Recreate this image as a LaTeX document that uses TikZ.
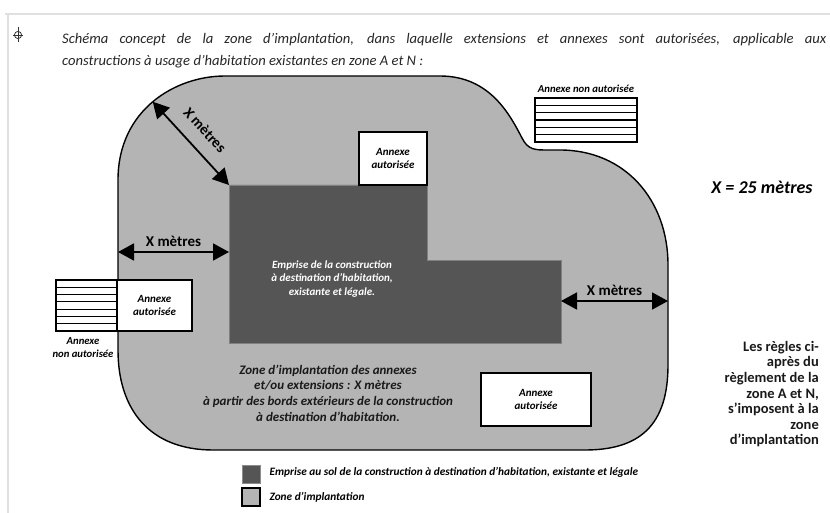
\documentclass[tikz,border=0pt]{standalone}
\usepackage{fontspec}
\setmainfont{Carlito}
\usetikzlibrary{arrows.meta}

\definecolor{zonegris}{HTML}{B4B4B4}
\definecolor{emprise}{HTML}{555555}
\definecolor{cadre}{HTML}{E0E0E0}

\begin{document}
\begin{tikzpicture}[x=1pt, y=-1pt,
  annexe/.style={draw=black, line width=1.4pt, fill=white, inner sep=0pt,
    font=\fontsize{11}{13.5}\selectfont\bfseries\itshape, align=center},
  hachure/.style={draw=black, line width=1.2pt},
  cote/.style={{Triangle[length=16pt,width=17pt]}-{Triangle[length=16pt,width=17pt]}, line width=1.8pt},
  cotelbl/.style={font=\fontsize{15}{18}\selectfont\bfseries},
  legende/.style={font=\fontsize{11.3}{13}\selectfont\bfseries\itshape, anchor=west},
]
  \useasboundingbox (0,0) rectangle (830,513);
  % cadre de la page et repere
  \draw[cadre, line width=1.5pt] (5,14) -- (830,14);
  \draw[cadre, line width=1.5pt] (8,14) -- (8,513);
  \draw[black!80, line width=0.8pt] (18,35) circle (3.6);
  \draw[black!80, line width=0.8pt] (18,27) -- (18,42) (13,35) -- (23,35);
  % titre
  \node[anchor=base west, font=\fontsize{14.6}{22}\selectfont\itshape, text=black!85, inner sep=0pt] (titre1) at (62,44)
    {\makebox[764pt][s]{Schéma concept de la zone d’implantation, dans laquelle extensions et annexes sont autorisées, applicable aux}};
  \node[anchor=base west, font=\fontsize{14.6}{22}\selectfont\itshape, text=black!85, inner sep=0pt] (titre2) at (62,66)
    {constructions à usage d’habitation existantes en zone A et N :};

  % zone d'implantation
  \filldraw[fill=zonegris, draw=black, line width=1.4pt]
    (225,76) -- (440,76) .. controls (490,76) and (510,115) .. (522,138)
    .. controls (528,150) and (535,150) .. (548,150) -- (560,150)
    .. controls (625,150) and (668,200) .. (668,265) -- (668,365)
    .. controls (668,425) and (640,450) .. (585,450) -- (213,450)
    .. controls (150,450) and (118,410) .. (118,350) -- (118,180)
    .. controls (118,110) and (175,76) .. (225,76) coordinate[pos=0.5] (zNO) -- cycle;
  \coordinate (zO) at (118,252);
  \coordinate (zE) at (668,301);

  % emprise de la construction
  \filldraw[fill=emprise, draw=black!50, line width=0.8pt]
    (229,185) coordinate (eNO) -- (427,185) -- (427,260) -- (561,260) -- (561,343) -- (229,343) -- cycle;
  \coordinate (eO) at (229,252);
  \coordinate (eE) at (561,301);
  \node[text=white, align=center, font=\fontsize{11}{13.7}\selectfont\bfseries\itshape] (txtEmprise) at (332,279)
    {Emprise de la construction\\à destination d’habitation,\\existante et légale.};

  % cotes
  \draw[cote] (zNO) -- (eNO);
  \node[cotelbl, rotate=-47.5] (coteNO) at (205,130) {X mètres};
  \draw[cote] (zO) -- node[cotelbl, above=1pt] (coteO) {X mètres} (eO);
  \draw[cote] (eE) -- node[cotelbl, above=1pt] (coteE) {X mètres} (zE);

  % annexes autorisees
  \node[annexe, minimum width=68pt, minimum height=53pt] (annHaut) at (393,158.5) {Annexe\\autorisée};
  \node[annexe, minimum width=75pt, minimum height=51pt] (annGauche) at (154.5,305.5) {Annexe\\autorisée};
  \node[annexe, minimum width=110pt, minimum height=53pt] (annBas) at (536,399.5) {Annexe\\autorisée};

  % annexes non autorisees
  \filldraw[fill=white, hachure] (535,98) rectangle (637,142);
  \foreach \k in {1,...,5}
    \draw[hachure] (535,{98+7.33*\k}) -- (637,{98+7.33*\k});
  \node[font=\fontsize{10.7}{13}\selectfont\bfseries\itshape] (nonHaut) at (586,89) {Annexe non autorisée};
  \filldraw[fill=white, hachure] (56,280) rectangle (117,331);
  \foreach \k in {1,...,6}
    \draw[hachure] (56,{280+7.29*\k}) -- (117,{280+7.29*\k});
  \node[align=center, font=\fontsize{10.7}{13}\selectfont\bfseries\itshape] (nonGauche) at (83,347.5) {Annexe\\non autorisée};

  \node[align=center, font=\fontsize{13}{15.7}\selectfont\bfseries\itshape, text=black!90] (txtZone) at (328,393)
    {Zone d’implantation des annexes\\et/ou extensions : X mètres\\à partir des bords extérieurs de la construction\\à destination d’habitation.};

  % a droite
  \node[font=\fontsize{18}{22}\selectfont\bfseries\itshape] (valeurX) at (762,187) {X = 25 mètres};
  \node[anchor=north east, align=right, inner sep=0pt, font=\fontsize{14.5}{15.6}\selectfont\bfseries, text=black!90] (regles) at (819,341)
    {Les règles ci-\\après du\\règlement de la\\zone A et N,\\s’imposent à la\\zone\\d’implantation};

  % legende
  \filldraw[fill=emprise, draw=black!45, line width=1pt] (242,465) rectangle (260,483);
  \filldraw[fill=zonegris, draw=black, line width=1.2pt] (242,488) rectangle (260,506);
  \node[legende] (legEmprise) at (266,472) {Emprise au sol de la construction à destination d’habitation, existante et légale};
  \node[legende] (legZone) at (266,497) {Zone d’implantation};
\end{tikzpicture}
\end{document}
